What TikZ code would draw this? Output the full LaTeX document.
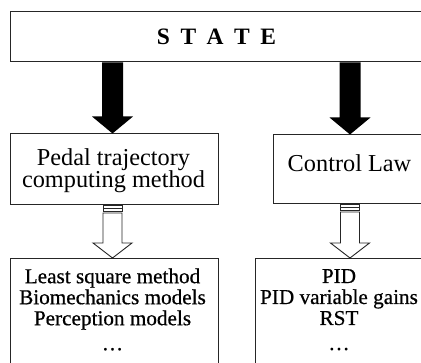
\documentclass[tikz,border=0pt]{standalone}
\usepackage{fontspec}
\setmainfont{Liberation Serif}
\newfontfamily\heavyserif[FakeBold=0.6]{Liberation Serif}
\usetikzlibrary{calc}
\newcommand\mysolidarrow[3]{%
  \fill[solidarr] ($(#1|-#2)+(-10.5,0)$) -- ($(#1|-#3)+(-10.5,-17)$) -- ($(#1|-#3)+(-20.5,-17)$) -- (#1|-#3)
     -- ($(#1|-#3)+(20.5,-17)$) -- ($(#1|-#3)+(10.5,-17)$) -- ($(#1|-#2)+(10.5,0)$) -- cycle;}
\newcommand\myhollowarrow[3]{%
  \draw[hollowarr] ($(#1|-#2)+(-9.5,0)$) rectangle ($(#1|-#2)+(9.5,5.5)$);
  \draw[hollowarr] ($(#1|-#2)+(-9.5,2.8)$) -- ($(#1|-#2)+(9.5,2.8)$);
  \draw[hollowarr] ($(#1|-#2)+(-9.5,7.5)$) -- ($(#1|-#3)+(-9.5,-15)$) -- ($(#1|-#3)+(-19.5,-15)$) -- (#1|-#3)
     -- ($(#1|-#3)+(19.5,-15)$) -- ($(#1|-#3)+(9.5,-15)$) -- ($(#1|-#2)+(9.5,7.5)$) -- cycle;}
\begin{document}
\begin{tikzpicture}[x=1pt,y=-1pt,
  box/.style={draw=black!85,line width=1pt,fill=white,inner sep=0pt},
  toptxt/.style={font=\fontsize{24.3}{22.5}\selectfont,align=center,inner sep=0pt},
  bottxt/.style={font=\heavyserif\fontsize{21.2}{21}\selectfont,align=center,inner sep=0pt},
  solidarr/.style={fill=black},
  hollowarr/.style={draw=black!85,line width=0.9pt,fill=white,line join=miter}]
\useasboundingbox (0,0) rectangle (421,363);
\clip (0,0) rectangle (421,363);
\fill[white] (0,0) rectangle (421,363);
% boxes
\node[box,minimum width=415pt,minimum height=50pt] (state) at (217.5,37) {};
\node[font=\bfseries\fontsize{23.5}{24}\selectfont,inner sep=0pt,anchor=base] (statetxt) at (216.5,44.8)
  {S\hspace{10.5pt}T\hspace{10.5pt}A\hspace{10.5pt}T\hspace{10.5pt}E};
\node[box,minimum width=208pt,minimum height=71pt] (pedal) at (114,169.5) {};
\node[toptxt] (pedaltxt) at (113.5,170.5) {Pedal trajectory\\computing method};
\node[box,minimum width=154pt,minimum height=69pt] (law) at (350,169.5) {};
\node[toptxt,anchor=base] (lawtxt) at (349.5,172) {Control Law};
\node[box,minimum width=208pt,minimum height=130pt,anchor=north] (methods) at (114,258) {};
\node[bottxt] (methodstxt) at (112.5,309.5) {Least square method\\Biomechanics models\\Perception models\\[4pt]…};
\node[box,minimum width=168pt,minimum height=130pt,anchor=north] (ctrl) at (339,258) {};
\node[bottxt] (ctrltxt) at (339,309.7) {PID\\PID variable gains\\RST\\[4pt]…};
% arrow axes
\coordinate (ax1) at (112.5,0);
\coordinate (ax2) at (350,0);
\mysolidarrow{ax1}{state.south}{pedal.north}
\mysolidarrow{ax2}{state.south}{law.north}
\myhollowarrow{ax1}{pedal.south}{methods.north}
\myhollowarrow{ax2}{law.south}{ctrl.north}
\end{tikzpicture}
\end{document}
